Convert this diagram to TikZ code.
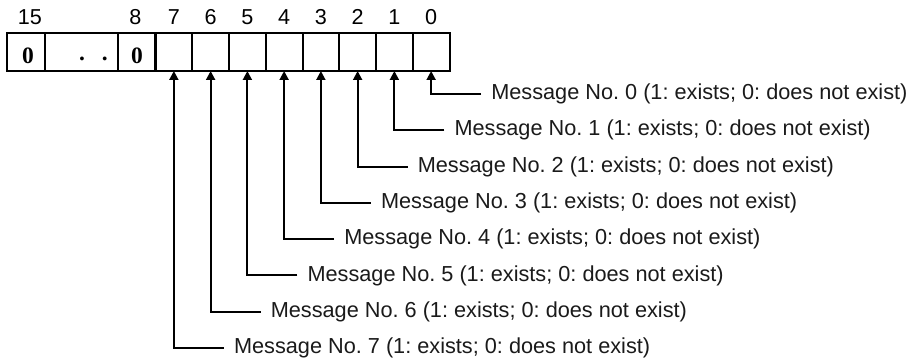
\documentclass[tikz,border=0pt]{standalone}
\usepackage{fontspec}
\setmainfont{Liberation Sans}
\newfontfamily\seriffont{Liberation Serif}
\usetikzlibrary{arrows.meta}
\frenchspacing
\definecolor{txt}{HTML}{1A1A1A}
\begin{document}
\begin{tikzpicture}[x=1pt,y=-1pt,
  cellbox/.style={draw,line width=2pt,inner sep=0pt,outer sep=0pt,minimum height=38pt},
  bitlabel/.style={anchor=base,inner sep=0pt,font=\fontsize{21.6}{21.6}\selectfont},
  cellval/.style={anchor=base,inner sep=0pt,font=\seriffont\bfseries\fontsize{23.5}{23.5}\selectfont},
  msg/.style={anchor=west,inner xsep=10pt,inner ysep=0pt,text=txt,font=\frenchspacing\fontsize{21.7}{21.7}\selectfont},
  conn/.style={line width=2pt,-{Triangle[length=9pt,width=9pt]}}]
\useasboundingbox (0,0) rectangle (908,363);
% register cells
\node[cellbox,minimum width=38pt] (c15) at (26,52) {};
\node[cellbox,minimum width=73pt] (cdots) at (81.5,52) {};
\node[cellbox,minimum width=37pt] (c8) at (136.5,52) {};
\foreach \i in {0,...,7} {
  \pgfmathsetmacro\cx{155.5+(7-\i)*36.75+18.375}
  \node[cellbox,minimum width=36.75pt] (c\i) at (\cx,52) {};
  \node[bitlabel] (l\i) at (\cx,24.5) {\i};
}
% bit labels for upper byte
\node[bitlabel] (l15) at (30,24.5) {15};
\node[bitlabel] (l8) at (135.5,24.5) {8};
% cell values
\node[cellval] (v15) at (28,63.5) {0};
\node[cellval] (vdots) at (93.5,61) {.\hspace{17pt}.};
\node[cellval] (v8) at (137,63.5) {0};
% messages and connectors
\foreach \i in {0,...,7} {
  \pgfmathsetmacro\cx{155.5+(7-\i)*36.75+18.375}
  \pgfmathsetmacro\ry{94+\i*36.3}
  \node[msg] (m\i) at (\cx+50,\ry) {Message No.\ \i\ (1: exists; 0: does not exist)};
  \draw[conn] (m\i.west) -| (c\i.south);
}
\end{tikzpicture}
\end{document}
